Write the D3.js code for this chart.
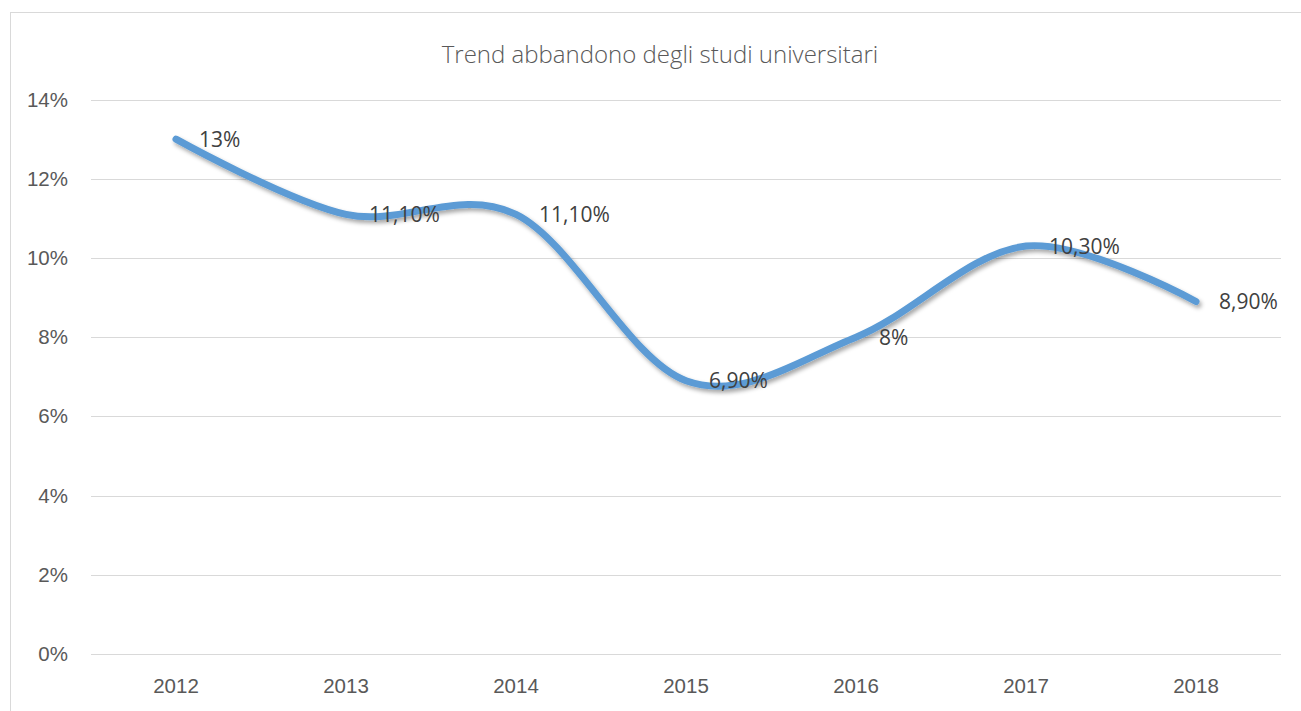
<!DOCTYPE html>
<html>
<head>
<meta charset="utf-8">
<script src="https://cdn.jsdelivr.net/npm/d3@7"></script>
<style>
  body { margin: 0; background: #fff; }
  svg { display: block; font-family: 'Open Sans', sans-serif; }
  .axis text { fill: #595959; font-size: 20.5px; }
  .axis .domain { display: none; }
  .axis line { stroke: #D9D9D9; }
</style>
</head>
<body>
<script>
const years = ['2012', '2013', '2014', '2015', '2016', '2017', '2018']
const rates = [13, 11.1, 11.1, 6.9, 8, 10.3, 8.9]
const rateLabels = ['13%', '11,10%', '11,10%', '6,90%', '8%', '10,30%', '8,90%']
const yTicks = [0, 2, 4, 6, 8, 10, 12, 14]

const drawChart = () => {
    const w = 1301
    const h = 711

    const left = 91
    const right = 1281
    const top = 99.5
    const bottom = 654

    const svg = d3.select('body').append('svg')
        .attr('width', w)
        .attr('height', h)

    const defs = svg.append('defs')
    defs.append('filter')
        .attr('id', 'shadow')
        .attr('x', '-10%').attr('y', '-10%')
        .attr('width', '120%').attr('height', '130%')
        .append('feDropShadow')
            .attr('dx', 2)
            .attr('dy', 3)
            .attr('stdDeviation', 2)
            .attr('flood-color', '#000')
            .attr('flood-opacity', 0.35)

    // chart frame, cut off on the right and bottom like the screenshot
    svg.append('rect')
        .attr('x', 10.5)
        .attr('y', 12.5)
        .attr('width', 1320)
        .attr('height', 740)
        .attr('fill', '#fff')
        .attr('stroke', '#D9D9D9')

    svg.append('text')
        .attr('x', 660)
        .attr('y', 63)
        .attr('text-anchor', 'middle')
        .attr('fill', '#595959')
        .style('font-size', '24px')
        .style('font-weight', 300)
        .text('Trend abbandono degli studi universitari')

    const xScale = d3.scaleBand()
        .domain(years)
        .range([left, right])

    const yScale = d3.scaleLinear()
        .domain([0, 14])
        .range([bottom, top])

    const cx = d => xScale(d) + xScale.bandwidth() / 2

    svg.append('g')
        .attr('class', 'axis')
        .attr('transform', `translate(${left}, 0)`)
        .call(d3.axisLeft(yScale)
            .tickValues(yTicks)
            .tickSize(-(right - left))
            .tickPadding(23)
            .tickFormat(d => d + '%'))
        .selectAll('line')
            .attr('shape-rendering', 'crispEdges')

    svg.append('g')
        .attr('class', 'axis')
        .attr('transform', `translate(0, ${bottom})`)
        .call(d3.axisBottom(xScale).tickSize(0).tickPadding(24))

    const points = years.map((y, i) => [cx(y), yScale(rates[i])])

    const line = d3.line()
        .curve(d3.curveCardinal.tension(0))

    svg.append('path')
        .attr('d', line(points))
        .attr('fill', 'none')
        .attr('stroke', '#5B9BD5')
        .attr('stroke-width', 7)
        .attr('stroke-linecap', 'round')
        .attr('stroke-linejoin', 'round')
        .attr('filter', 'url(#shadow)')

    svg.append('g').selectAll('text')
        .data(years)
        .enter()
        .append('text')
            .attr('x', d => cx(d) + 23)
            .attr('y', (d, i) => yScale(rates[i]))
            .attr('dy', '0.36em')
            .attr('fill', '#404040')
            .style('font-size', '21px')
            .text((d, i) => rateLabels[i])
}

drawChart()
</script>
</body>
</html>
